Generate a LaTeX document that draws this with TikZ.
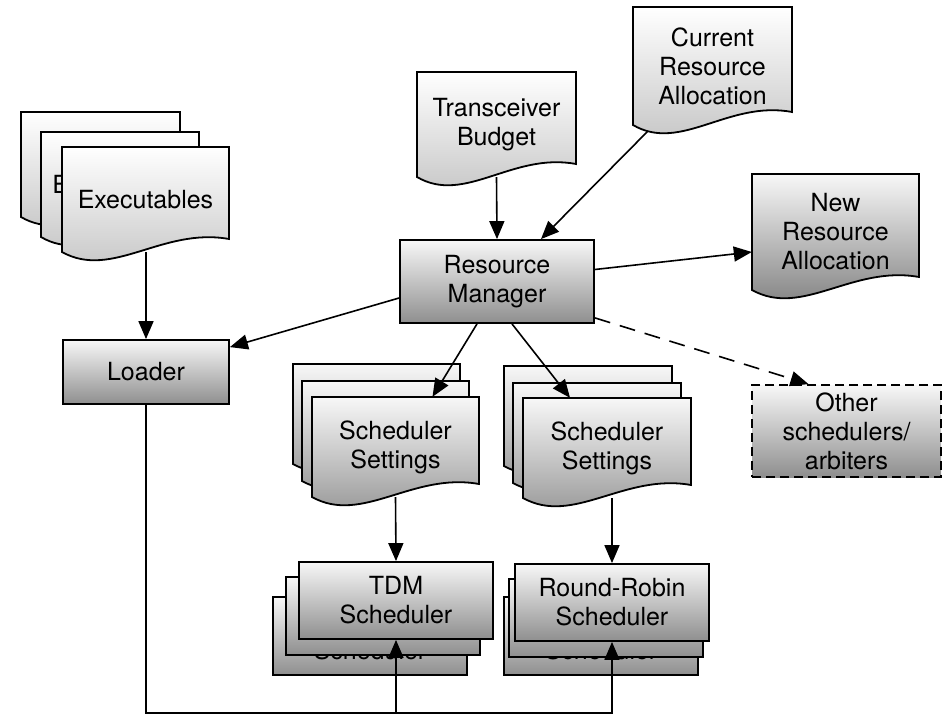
\documentclass[tikz,border=0pt]{standalone}
\usepackage{fontspec}
\setmainfont{TeX Gyre Heros}
\usetikzlibrary{arrows.meta}

\definecolor{lighttop}{gray}{1.0}
\definecolor{lightbot}{gray}{0.76}
\definecolor{darktop}{gray}{0.97}
\definecolor{darkbot}{gray}{0.56}
\definecolor{newbot}{gray}{0.47}

\tikzset{
  outline/.style={line width=1.8pt, line join=miter},
  lbl/.style={align=center, font=\fontsize{25}{29}\selectfont, inner sep=0pt},
  box/.style={outline, draw, lbl, top color=darktop, bottom color=darkbot},
  flow/.style={line width=1.6pt, line join=miter, -{Triangle[length=18pt,width=15pt]}},
  optional/.style={dash pattern=on 16pt off 10pt},
}

% Document symbol with a wavy lower edge:
% name, left, top, width, height, top colour, bottom colour, text
\newcommand\docshape[8]{%
  \draw[outline, top color=#6, bottom color=#7]
    (#2,#3) -- (#2+#4,#3) -- (#2+#4,#3+#5-13)
    .. controls (#2+0.6*#4,#3+#5-25) and (#2+0.3*#4,#3+#5+28) .. (#2,#3+#5) -- cycle;
  \node[lbl, minimum width=#4pt, minimum height=#5pt] (#1) at (#2+0.5*#4,#3+0.5*#5) {#8};
}

\begin{document}
\begin{tikzpicture}[x=1pt, y=-1pt]
  \fill[white] (0,0) rectangle (943,715);
  \useasboundingbox (0,0) rectangle (943,715);

  % program images
  \docshape{exe3}{21}{112}{159}{105}{lighttop}{lightbot}{}
  \docshape{exe2}{41}{132}{158}{105}{lighttop}{lightbot}{Executables}
  \docshape{exe}{62}{147}{167}{105}{lighttop}{lightbot}{Executables}

  % inputs and outputs of the resource manager
  \docshape{tb}{417}{72}{159}{105}{lighttop}{lightbot}{Transceiver\\Budget}
  \docshape{cra}{633}{7}{159}{118}{lighttop}{lightbot}{Current\\Resource\\Allocation}
  \docshape{nra}{752}{174}{167}{116}{darktop}{newbot}{New\\Resource\\Allocation}

  \node[box, minimum width=194pt, minimum height=83pt] (rm) at (497,281.5) {Resource\\Manager};
  \node[box, minimum width=166pt, minimum height=64pt] (ld) at (146,372) {Loader};
  \node[box, dash pattern=on 9pt off 5pt, minimum width=189pt, minimum height=92pt]
    (oth) at (846.5,431) {Other\\schedulers/\\arbiters};

  % scheduler settings
  \docshape{ssa3}{293}{364}{167}{100}{darktop}{darkbot}{}
  \docshape{ssa2}{302}{381}{167}{100}{darktop}{darkbot}{}
  \docshape{ssa}{312}{397}{167}{100}{darktop}{darkbot}{Scheduler\\Settings}
  \docshape{ssb3}{504}{366}{168}{100}{darktop}{darkbot}{}
  \docshape{ssb2}{513}{383}{168}{100}{darktop}{darkbot}{}
  \docshape{ssb}{523}{398}{168}{100}{darktop}{darkbot}{Scheduler\\Settings}

  % scheduler instances
  \node[box, minimum width=194pt, minimum height=78pt] (tdm3) at (370,636) {TDM\\Scheduler};
  \node[box, minimum width=194pt, minimum height=78pt] (tdm2) at (383,616) {TDM\\Scheduler};
  \node[box, minimum width=194pt, minimum height=77pt] (tdm) at (396,600.5) {TDM\\Scheduler};
  \node[box, minimum width=194pt, minimum height=78pt] (rr3) at (601,636) {Round-Robin\\Scheduler};
  \node[box, minimum width=194pt, minimum height=78pt] (rr2) at (606,618) {Round-Robin\\Scheduler};
  \node[box, minimum width=194pt, minimum height=77pt] (rr) at (612,602.5) {Round-Robin\\Scheduler};

  % connectors
  \draw[flow] (tb.south) -- (rm.north);
  \draw[flow] ([xshift=15pt,yshift=-6pt]cra.south west) -- ([xshift=44pt]rm.north);
  \draw[flow] ([yshift=12pt]rm.east) -- ([yshift=-20pt]nra.west);
  \draw[flow, optional] ([yshift=6pt]rm.south east) -- ([xshift=-38pt]oth.north);
  \draw[flow] ([yshift=-16.5pt]rm.west) -- ([yshift=-8pt]ld.north east);
  \draw[flow] (exe.south -| ld.north) -- (ld.north);
  \draw[flow] ([xshift=-20pt]rm.south) -- ([xshift=37pt]ssa.north);
  \draw[flow] ([xshift=15pt]rm.south) -- ([xshift=-37pt]ssb.north);
  \draw[flow] (ssa.south) -- (tdm.north);
  \draw[flow] (ssb.south -| rr.north) -- (rr.north);

  \coordinate (busend) at (612,713);
  \draw[flow] (ld.south) |- (busend) -- (rr.south);
  \draw[flow] (tdm.south |- busend) -- (tdm.south);
\end{tikzpicture}
\end{document}
